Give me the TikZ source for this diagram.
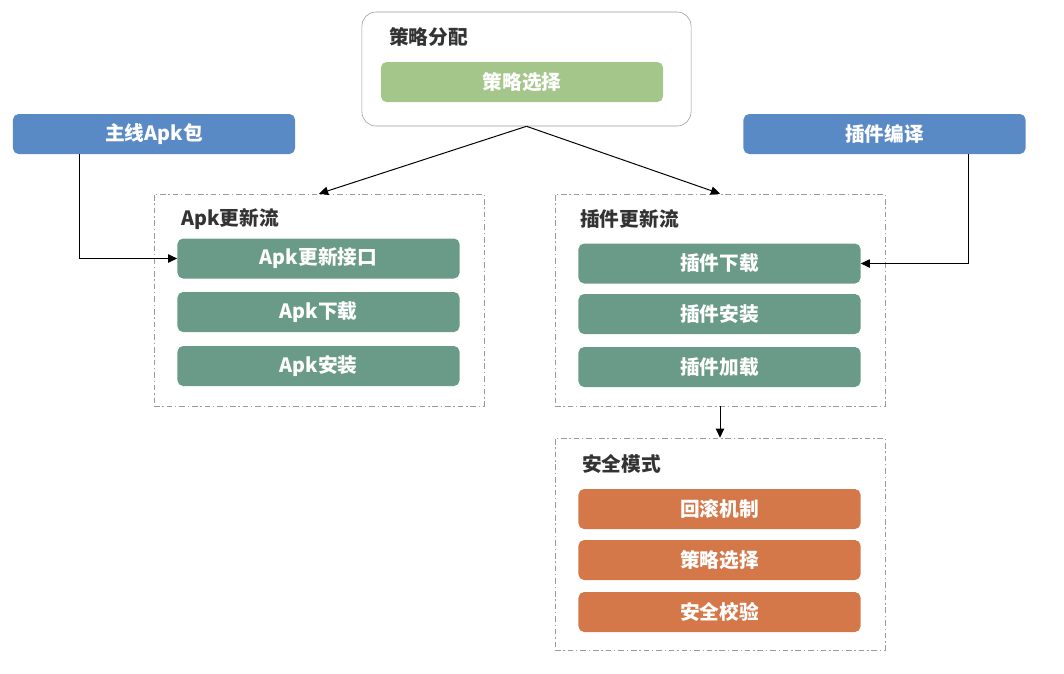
\documentclass[tikz,border=0pt]{standalone}
\usepackage{fontspec}
\setmainfont{Noto Sans CJK SC}
\usetikzlibrary{arrows.meta,positioning}
\definecolor{updblue}{HTML}{5A8AC6}
\definecolor{updgreen}{HTML}{A4C68A}
\definecolor{updteal}{HTML}{6A9B89}
\definecolor{updorange}{HTML}{D4784A}
\definecolor{updtext}{HTML}{333333}
\definecolor{updgray}{HTML}{9A9A9A}

\begin{document}
\begin{tikzpicture}[
  x=0.025cm, y=-0.025cm,
  font=\bfseries\fontsize{14}{16}\selectfont,
  >={Triangle[length=6.5pt,width=6pt]},
  item/.style={fill=#1, rounded corners=4pt, text=white,
    minimum width=7.05cm, minimum height=1cm, inner sep=0pt},
  group/.style={draw=updgray, dash pattern=on 4pt off 2pt on 1pt off 2pt,
    minimum width=8.25cm, minimum height=5.3cm, inner sep=0pt},
  grouptitle/.style={anchor=west, text=updtext, inner sep=0pt},
  link/.style={->, line width=0.7pt, black},
]
\useasboundingbox (0,0) rectangle (1064,673);

% strategy dispatch
\node[draw=gray!80, rounded corners=10pt, minimum width=8.225cm, minimum height=2.85cm,
  inner sep=0pt] (strategy) at (526.5,69) {};
\node[grouptitle] (strategytitle) at (389,37) {策略分配};
\node[item=updgreen] (strategypick) at (522,82) {策略选择};

% inputs
\node[item=updblue] (mainapk) at (154,134) {主线Apk包};
\node[item=updblue] (plugbuild) at (884.5,134) {插件编译};

% apk update flow
\node[group] (apkflow) at (319,300) {};
\node[grouptitle] (apkflowtitle) at (181,219) {Apk更新流};
\node[item=updteal] (apkapi) at (318.5,258.5) {Apk更新接口};
\node[item=updteal] (apkdown) at (318.5,312) {Apk下载};
\node[item=updteal] (apkinst) at (318.5,366) {Apk安装};

% plugin update flow
\node[group] (plugflow) at (720,300) {};
\node[grouptitle] (plugflowtitle) at (580,219) {插件更新流};
\node[item=updteal] (plugdown) at (719.5,263.5) {插件下载};
\node[item=updteal] (pluginst) at (719.5,314) {插件安装};
\node[item=updteal] (plugload) at (719.5,367) {插件加载};

% safe mode
\node[group] (safemode) at (720,544) {};
\node[grouptitle] (safemodetitle) at (582,464) {安全模式};
\node[item=updorange] (rollback) at (719.5,509) {回滚机制};
\node[item=updorange] (safepick) at (719.5,560) {策略选择};
\node[item=updorange] (safecheck) at (719.5,612) {安全校验};

\draw[link] (strategy.south) -- (apkflow.north);
\draw[link] (strategy.south) -- (plugflow.north);
\draw[link] ([xshift=1.675cm]mainapk.south west) |- (apkapi.west);
\draw[link] ([xshift=-1.425cm]plugbuild.south east) |- (plugdown.east);
\draw[link] (plugflow.south) -- (safemode.north);
\end{tikzpicture}
\end{document}
